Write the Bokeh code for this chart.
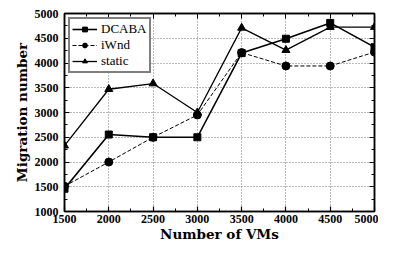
from bokeh.plotting import figure
from bokeh.models import FixedTicker, LinearAxis, Range1d, Legend, LegendItem
from bokeh.embed import file_html
from bokeh.resources import INLINE

vms = [1500, 2000, 2500, 3000, 3500, 4000, 4500, 5000]
dcaba = [1460, 2555, 2500, 2500, 4200, 4490, 4810, 4320]
iwnd = [1510, 2000, 2500, 2950, 4210, 3940, 3940, 4220]
static = [2330, 3470, 3585, 3000, 4710, 4260, 4725, 4725]

x_ticks = [1500, 2000, 2500, 3000, 3500, 4000, 4500, 5000]
y_ticks = [1000, 1500, 2000, 2500, 3000, 3500, 4000, 4500, 5000]
x_minor = [1750, 2250, 2750, 3250, 3750, 4250, 4750]
y_minor = [1250, 1750, 2250, 2750, 3250, 3750, 4250, 4750]

TICKFONT = "Liberation Serif"
LABELFONT = "DejaVu Serif"

p = figure(width=378, height=244, output_backend="svg", toolbar_location=None,
           x_range=Range1d(1500, 5000), y_range=Range1d(1000, 5000),
           min_border_left=64, min_border_right=4, min_border_top=13, min_border_bottom=5)

p.outline_line_color = "black"
p.outline_line_width = 1.5
p.background_fill_color = "white"
p.border_fill_color = "white"

for ax, t, m in [(p.xaxis[0], x_ticks, x_minor), (p.yaxis[0], y_ticks, y_minor)]:
    ax.ticker = FixedTicker(ticks=t, minor_ticks=m)
    ax.major_tick_in = 5
    ax.major_tick_out = 0
    ax.minor_tick_in = 3
    ax.minor_tick_out = 0
    ax.axis_line_width = 1.5
    ax.major_tick_line_width = 1.2
    ax.major_label_text_font = TICKFONT
    ax.major_label_text_font_style = "bold"
    ax.major_label_text_font_size = "12px"
    ax.major_label_text_color = "black"
    ax.axis_label_text_font = LABELFONT
    ax.axis_label_text_font_style = "bold"
    ax.axis_label_text_font_size = "13.5px"
    ax.axis_label_text_color = "black"

p.xaxis.axis_label = "Number of VMs"
p.yaxis.axis_label = "Migration number"
p.xaxis.major_label_standoff = 3
p.yaxis.major_label_standoff = 6
p.xaxis.axis_label_standoff = 0
p.yaxis.axis_label_standoff = 2

for loc, t, m in [("right", y_ticks, y_minor), ("above", x_ticks, x_minor)]:
    ax = LinearAxis(ticker=FixedTicker(ticks=t, minor_ticks=m))
    ax.major_tick_in = 5
    ax.major_tick_out = 0
    ax.minor_tick_in = 3
    ax.minor_tick_out = 0
    ax.major_label_overrides = {v: "" for v in t}
    ax.major_label_standoff = 0
    ax.axis_line_width = 1.5
    p.add_layout(ax, loc)

p.grid.grid_line_color = "#777777"
p.grid.grid_line_dash = "1 2"
p.grid.grid_line_width = 1
p.xgrid.ticker = FixedTicker(ticks=x_ticks)
p.ygrid.ticker = FixedTicker(ticks=y_ticks)

l1 = p.line(vms, dcaba, line_color="black", line_width=1.6)
m1 = p.scatter(vms, dcaba, marker="square", size=7, color="black")
l2 = p.line(vms, iwnd, line_color="black", line_width=1, line_dash="4 2")
m2 = p.scatter(vms, iwnd, marker="circle", size=8, color="black")
l3 = p.line(vms, static, line_color="black", line_width=1.3)
m3 = p.scatter(vms, static, marker="triangle", size=8, color="black")

legend = Legend(items=[LegendItem(label="DCABA", renderers=[l1, m1]),
                       LegendItem(label="iWnd", renderers=[l2, m2]),
                       LegendItem(label="static", renderers=[l3, m3])],
                location="top_left")
legend.border_line_color = "black"
legend.border_line_width = 2
legend.label_text_font = TICKFONT
legend.label_text_font_size = "13px"
legend.label_text_color = "black"
legend.label_text_line_height = 1.0
legend.glyph_width = 25
legend.glyph_height = 12
legend.label_height = 12
legend.label_standoff = 4
legend.spacing = 0
legend.padding = 2
legend.margin = 4
p.add_layout(legend, "center")

open("out.html", "w").write(file_html(p, INLINE))
